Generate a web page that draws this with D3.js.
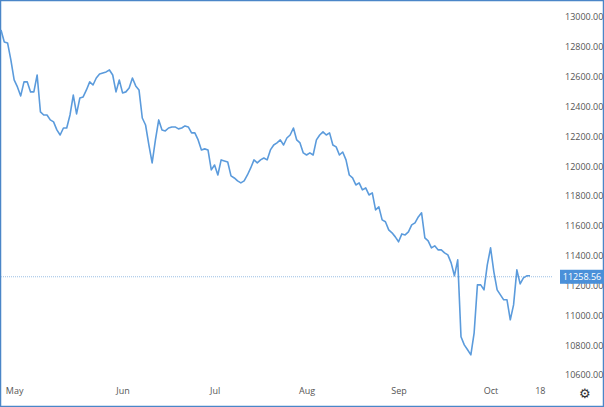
<!DOCTYPE html><html><head><meta charset="utf-8">
<script src="https://cdn.jsdelivr.net/npm/d3@7"></script>
<style>body{margin:0;background:#fff}svg{display:block}text{font-family:"Open Sans",sans-serif}</style></head><body>
<svg id="c" width="604" height="407"></svg>
<script>
const values=[12913,12832,12826,12712,12578,12531,12471,12565,12565,12498,12498,12611,12364,12343,12343,12310,12297,12243,12209,12256,12256,12343,12477,12350,12457,12464,12511,12565,12544,12591,12618,12625,12632,12645,12611,12498,12578,12491,12498,12524,12591,12538,12511,12323,12276,12142,12022,12176,12310,12243,12236,12256,12263,12263,12250,12256,12270,12263,12223,12223,12176,12109,12116,12109,11975,12008,11941,12042,12035,12028,11935,11921,11901,11888,11901,11941,11988,12042,12022,12042,12055,12042,12109,12142,12156,12176,12142,12189,12209,12256,12176,12156,12089,12075,12089,12075,12176,12209,12230,12209,12223,12142,12129,12075,12095,12042,11941,11921,11874,11888,11841,11854,11807,11821,11707,11727,11640,11627,11573,11553,11526,11493,11546,11539,11560,11606,11620,11660,11687,11519,11499,11452,11466,11439,11439,11419,11405,11352,11265,11372,10856,10802,10769,10735,10883,11204,11204,11171,11338,11452,11292,11171,11137,11104,11104,10970,11070,11305,11211,11251,11265,11265];
const yTicks=[10600,10800,11000,11200,11400,11600,11800,12000,12200,12400,12600,12800,13000];
const xTickLabels=["May","Jun","Jul","Aug","Sep","Oct","18"];
const xTickIdx=[4,37,65,93,121,149,164];
const lastValue=11258.56;
const svg=d3.select("#c");
const W=604,H=407,plotR=553,plotB=384;
svg.append("rect").attr("x",0.5).attr("y",0.5).attr("width",W-1).attr("height",H-1).attr("fill","#fff").attr("stroke","#4a86c8").attr("stroke-width",1.5);
const x=d3.scaleLinear().domain([0,values.length-1]).range([1,530]);
const y=d3.scaleLinear().domain([10600,13000]).range([375,17]);
const gy=svg.append("g").attr("transform",`translate(${plotR},0)`).call(d3.axisRight(y).tickValues(yTicks).tickFormat(d3.format(".2f")).tickSize(0).tickPadding(12));
gy.select(".domain").remove();
gy.selectAll("text").attr("fill","#555").attr("font-size",9);
const gx=svg.append("g").attr("transform",`translate(0,${plotB})`).call(d3.axisBottom(x).tickValues(xTickIdx).tickFormat((d,i)=>xTickLabels[i]).tickSize(0).tickPadding(4));
gx.select(".domain").remove();
gx.selectAll("text").attr("fill","#555").attr("font-size",9);
svg.append("line").attr("x1",1).attr("x2",plotR).attr("y1",y(lastValue)).attr("y2",y(lastValue)).attr("stroke","#9bbfe4").attr("stroke-dasharray","1,1").attr("stroke-width",1);
svg.append("path").datum(values).attr("fill","none").attr("stroke","#5b9bdc").attr("stroke-width",1.6).attr("stroke-linejoin","round")
 .attr("d",d3.line().x((d,i)=>x(i)).y(d=>y(d)));
svg.append("rect").attr("x",plotR+7).attr("y",y(lastValue)-7).attr("width",44).attr("height",14).attr("fill","#4a90d9");
svg.append("text").attr("x",plotR+29).attr("y",y(lastValue)+3.5).attr("text-anchor","middle").attr("fill","#fff").attr("font-size",9).text(d3.format(".2f")(lastValue));
svg.append("text").attr("x",585).attr("y",398).attr("text-anchor","middle").attr("font-size",13).attr("fill","#333").text("⚙");
</script></body></html>
